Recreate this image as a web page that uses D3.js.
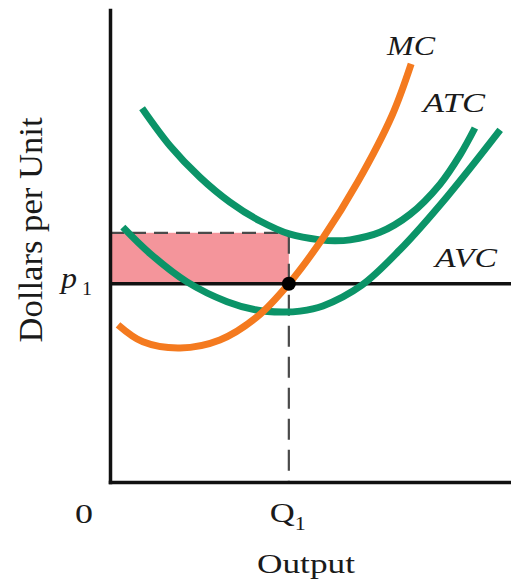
<!DOCTYPE html>
<html><head><meta charset="utf-8">
<script src="https://cdn.jsdelivr.net/npm/d3@7"></script>
<style>
html,body{margin:0;padding:0;background:#fff;}
svg{display:block;}
text{font-family:"Liberation Serif","Times New Roman",serif;fill:#1a1a1a;}
</style></head>
<body>
<svg id="c" width="511" height="580"></svg>
<script>
// ---- data (output units 0-100, dollars per unit 0-100) ----
const mcOutput  = [2.0, 8.2, 17.5, 27.4, 36.7, 44.6, 53.1, 61.8, 70.3, 75.1];
const mcCost    = [33.3, 29.7, 28.4, 30.1, 35.0, 42.0, 51.7, 63.6, 77.6, 88.6];
const atcOutput = [8.0, 15.0, 22.4, 29.9, 37.4, 44.9, 52.4, 56.1, 59.9, 67.3, 74.8, 82.3, 87.3, 91.0];
const atcCost   = [79.2, 71.2, 64.6, 59.3, 55.3, 52.5, 51.3, 51.1, 51.3, 52.9, 56.7, 63.1, 69.3, 75.0];
const avcOutput = [3.2, 10.0, 19.2, 29.2, 36.2, 42.9, 47.4, 53.1, 62.8, 72.3, 84.0, 97.3];
const avcCost   = [54.0, 48.4, 42.4, 38.2, 36.5, 36.0, 36.2, 37.3, 41.7, 49.2, 60.4, 74.6];
const priceP1 = 42.0;      // p1
const outputQ1 = 44.6;     // Q1
const atcAtQ1 = 52.8;      // ATC at Q1 (top of loss rectangle)

const svg = d3.select("#c");
const x = d3.scaleLinear().domain([0, 100]).range([110, 511]);
const y = d3.scaleLinear().domain([0, 100]).range([482, 10]);

const ORANGE = "#f47a1f", GREEN = "#0b9468", PINK = "#f4959b";

// loss rectangle
svg.append("rect")
  .attr("x", x(0)).attr("y", y(atcAtQ1))
  .attr("width", x(outputQ1) - x(0)).attr("height", y(priceP1) - y(atcAtQ1))
  .attr("fill", PINK);

// dashed guides
svg.append("line")
  .attr("x1", x(0)).attr("x2", x(outputQ1))
  .attr("y1", y(atcAtQ1)).attr("y2", y(atcAtQ1))
  .attr("stroke", "#4a4a4a").attr("stroke-width", 2.2).attr("stroke-dasharray", "14,8");
svg.append("line")
  .attr("x1", x(outputQ1)).attr("x2", x(outputQ1))
  .attr("y1", y(atcAtQ1)).attr("y2", y(0))
  .attr("stroke", "#4a4a4a").attr("stroke-width", 2.2).attr("stroke-dasharray", "21,10");

// p1 price line
svg.append("line")
  .attr("x1", x(0)).attr("x2", x(100))
  .attr("y1", y(priceP1)).attr("y2", y(priceP1))
  .attr("stroke", "#111").attr("stroke-width", 3.5);

// axes
svg.append("g").attr("transform", `translate(${x(0)},0)`)
  .call(d3.axisLeft(y).tickValues([]).tickSizeOuter(0));
svg.append("g").attr("transform", `translate(0,${y(0)})`)
  .call(d3.axisBottom(x).tickValues([]).tickSizeOuter(0));
svg.selectAll(".domain").attr("stroke", "#111").attr("stroke-width", 3.5).attr("stroke-linecap", "square");

// curves
const line = d3.line().x(d => x(d[0])).y(d => y(d[1])).curve(d3.curveCatmullRom.alpha(0.5));
function curve(xs, ys, color) {
  svg.append("path").datum(xs.map((v, i) => [v, ys[i]]))
    .attr("d", line).attr("fill", "none")
    .attr("stroke", color).attr("stroke-width", 7).attr("stroke-linecap", "butt");
}
curve(avcOutput, avcCost, GREEN);
curve(atcOutput, atcCost, GREEN);
curve(mcOutput, mcCost, ORANGE);

// equilibrium dot
svg.append("circle").attr("cx", x(outputQ1)).attr("cy", y(priceP1)).attr("r", 7).attr("fill", "#000");

// curve labels
function label(txt, px, py, len, italic) {
  return svg.append("text").attr("x", px).attr("y", py)
    .attr("font-size", 28).attr("font-style", italic ? "italic" : "normal")
    .attr("textLength", len).attr("lengthAdjust", "spacingAndGlyphs").text(txt);
}
label("MC", 387, 55, 48, true);
label("ATC", 423, 112, 62, true);
label("AVC", 435, 267, 62, true);

// p1
svg.append("text").attr("x", 61).attr("y", y(priceP1) + 4).attr("font-size", 30)
  .attr("font-style", "italic").attr("textLength", 16).attr("lengthAdjust", "spacingAndGlyphs").text("p");
svg.append("text").attr("x", 82).attr("y", y(priceP1) + 11).attr("font-size", 19)
  .attr("textLength", 10).attr("lengthAdjust", "spacingAndGlyphs").text("1");

// 0 and Q1
label("0", 75, 523, 18, false);
svg.append("text").attr("x", x(outputQ1) - 19).attr("y", 522).attr("font-size", 28)
  .attr("textLength", 25).attr("lengthAdjust", "spacingAndGlyphs").text("Q");
svg.append("text").attr("x", x(outputQ1) + 6).attr("y", 530).attr("font-size", 19)
  .attr("textLength", 11).attr("lengthAdjust", "spacingAndGlyphs").text("1");

// axis titles
svg.append("text").attr("x", 306).attr("y", 573).attr("font-size", 28)
  .attr("text-anchor", "middle").attr("textLength", 98).attr("lengthAdjust", "spacingAndGlyphs").text("Output");
svg.append("text").attr("transform", "translate(42,230) rotate(-90)")
  .attr("font-size", 33).attr("text-anchor", "middle")
  .attr("textLength", 225).attr("lengthAdjust", "spacingAndGlyphs").text("Dollars per Unit");
</script>
</body></html>
